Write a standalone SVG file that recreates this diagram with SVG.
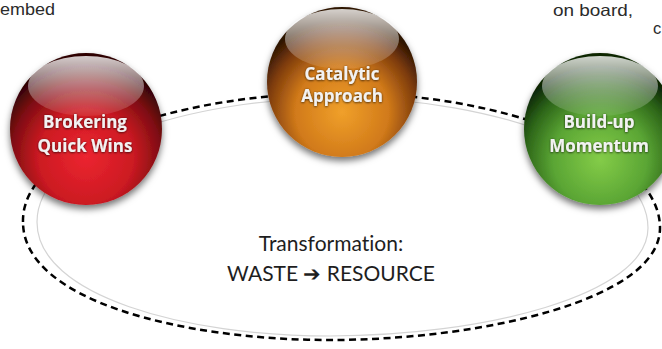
<svg xmlns="http://www.w3.org/2000/svg" width="662" height="349" viewBox="0 0 662 349">
  <defs>
    <style>
      .frag { font-family: "Liberation Sans", Arial, sans-serif; font-size: 16.5px; fill: #2b2b2b; }
      .ball-label { font-family: "Open Sans", "DejaVu Sans", sans-serif; font-size: 17px; font-weight: 700; fill: #f2f2f2; text-anchor: middle; filter: url(#textShade); }
      .center-label { font-family: Lato, "Liberation Sans", sans-serif; font-size: 21px; fill: #1e1e1e; text-anchor: middle; font-variant-ligatures: none; }
      .loop { fill: none; stroke: #000; stroke-width: 2.5; stroke-dasharray: 7 4.5; }
      .loop-shadow { fill: none; stroke: #d4d4d4; stroke-width: 1.2; }
      .gloss { fill: url(#gloss); }
    </style>
    <radialGradient id="redBall" cx="50%" cy="68%" r="62%">
      <stop offset="0" stop-color="#ec2530"/>
      <stop offset="0.5" stop-color="#cc1a22"/>
      <stop offset="0.8" stop-color="#7d0d12"/>
      <stop offset="1" stop-color="#2e0405"/>
    </radialGradient>
    <radialGradient id="amberBall" cx="50%" cy="70%" r="62%">
      <stop offset="0" stop-color="#f0a02a"/>
      <stop offset="0.5" stop-color="#d17a1a"/>
      <stop offset="0.8" stop-color="#7e3c0c"/>
      <stop offset="1" stop-color="#2e1403"/>
    </radialGradient>
    <radialGradient id="greenBall" cx="50%" cy="70%" r="62%">
      <stop offset="0" stop-color="#84cc48"/>
      <stop offset="0.5" stop-color="#5aa534"/>
      <stop offset="0.8" stop-color="#2c6418"/>
      <stop offset="1" stop-color="#0c2606"/>
    </radialGradient>
    <linearGradient id="gloss" x1="0" y1="0" x2="0" y2="1">
      <stop offset="0" stop-color="#ffffff" stop-opacity="0.8"/>
      <stop offset="0.6" stop-color="#ffffff" stop-opacity="0.35"/>
      <stop offset="1" stop-color="#ffffff" stop-opacity="0.08"/>
    </linearGradient>
    <filter id="ballShadow" x="-20%" y="-20%" width="140%" height="150%">
      <feDropShadow dx="0" dy="4" stdDeviation="3.5" flood-color="#000" flood-opacity="0.55"/>
    </filter>
    <filter id="textShade" x="-10%" y="-30%" width="120%" height="160%">
      <feDropShadow dx="0" dy="0.6" stdDeviation="0.8" flood-color="#000" flood-opacity="0.8"/>
    </filter>
  </defs>

  <rect width="662" height="349" fill="#ffffff"/>

  <!-- clipped fragments of surrounding page text -->
  <text class="frag" x="0" y="15" textLength="55" lengthAdjust="spacingAndGlyphs">embed</text>
  <text class="frag" x="553" y="16" textLength="80" lengthAdjust="spacingAndGlyphs">on board,</text>
  <text class="frag" x="653" y="34">c</text>

  <!-- cycle loop running behind the three balls -->
  <g id="connectors">
    <path class="loop-shadow" d="M 37,222 C 37,148 185,98 340,98 C 500,98 648,155 648,228 C 648,296 480,336 330,336 C 185,336 37,296 37,222 Z"/>
    <path class="loop" d="M 23,222 C 21,145 180,93 340,93 C 500,93 660,150 660,228 C 660,300 480,340 330,340 C 180,340 23,300 23,222 Z"/>
  </g>

  <text class="center-label" x="331" y="251">Transformation:</text>
  <text class="center-label" x="331" y="281">WASTE ➔ RESOURCE</text>

  <g id="brokering">
    <circle cx="86" cy="129" r="76" fill="url(#redBall)" filter="url(#ballShadow)"/>
    <ellipse class="gloss" cx="86" cy="86" rx="58" ry="30"/>
    <text class="ball-label" x="85" y="128">Brokering</text>
    <text class="ball-label" x="85" y="152">Quick Wins</text>
  </g>

  <g id="catalytic">
    <circle cx="342" cy="82" r="75" fill="url(#amberBall)" filter="url(#ballShadow)"/>
    <ellipse class="gloss" cx="342" cy="39" rx="57" ry="30"/>
    <text class="ball-label" x="342" y="80">Catalytic</text>
    <text class="ball-label" x="342" y="102">Approach</text>
  </g>

  <g id="momentum">
    <circle cx="600" cy="129" r="76" fill="url(#greenBall)" filter="url(#ballShadow)"/>
    <ellipse class="gloss" cx="600" cy="86" rx="58" ry="30"/>
    <text class="ball-label" x="599" y="128">Build-up</text>
    <text class="ball-label" x="599" y="152">Momentum</text>
  </g>
</svg>
